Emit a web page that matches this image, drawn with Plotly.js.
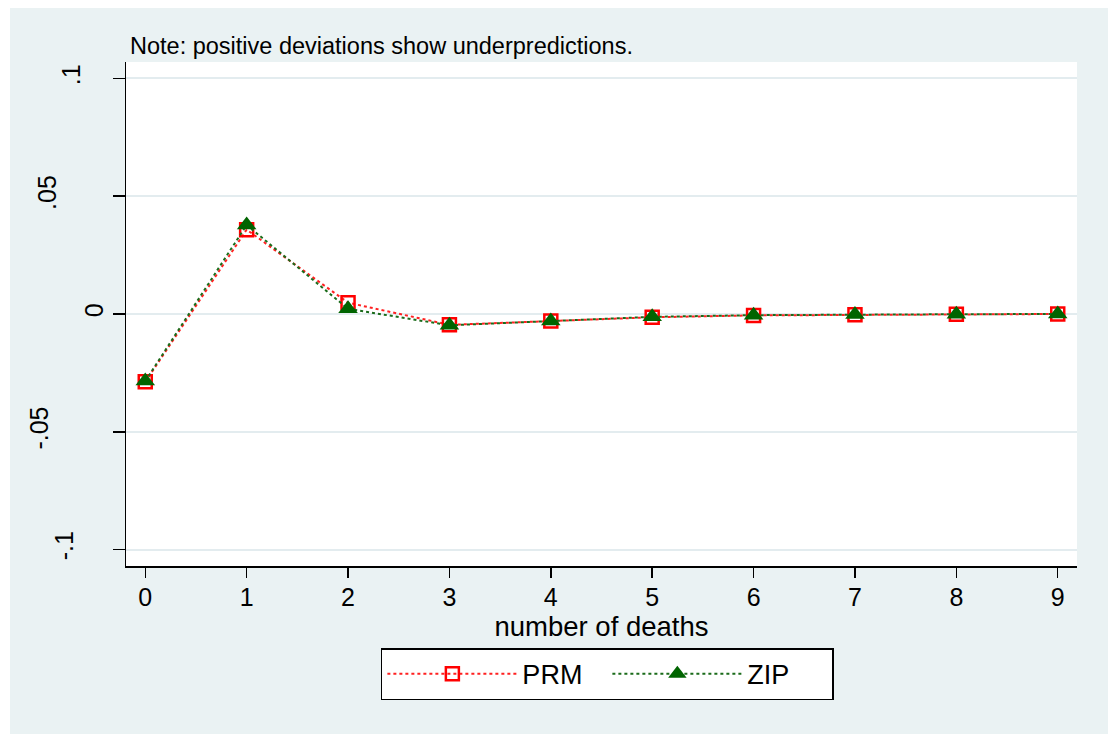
<!DOCTYPE html>
<html>
<head>
<meta charset="utf-8">
<script src="https://cdn.plot.ly/plotly-3.0.1.min.js"></script>
<style>
html,body{margin:0;padding:0;background:#ffffff;}
#chart{position:absolute;left:10px;top:8px;width:1098px;height:726px;}
</style>
</head>
<body>
<div id="chart"></div>
<script>
const deaths = [0,1,2,3,4,5,6,7,8,9];
const prmDev = [-0.0288,0.0358,0.0048,-0.0046,-0.0030,-0.0014,-0.0006,-0.0003,-0.0001,0.0000];
const zipDev = [-0.0285,0.0378,0.0022,-0.0048,-0.0030,-0.0012,-0.0005,-0.0002,-0.0001,0.0000];
const yTickVals = [-0.1,-0.05,0,0.05,0.1];
const yTickText = ['-.1','-.05','0','.05','.1'];
const seriesNames = ['PRM','ZIP'];
const noteText = 'Note: positive deviations show underpredictions.';

// style: extra horizontal shift (px) of each y label, as in the original rendering
const yLabelShift = {'-.1':30,'-.05':55,'0':0,'.05':47,'.1':23};

const Y_RANGE = [-0.107,0.107];
const traces = [
  {x:deaths,y:prmDev,name:seriesNames[0],type:'scatter',mode:'lines+markers',
   line:{color:'#ff2020',width:2,dash:'dot'},
   marker:{symbol:'square-open',size:13,color:'#ff0000',line:{width:2.5,color:'#ff0000'}}},
  {x:deaths,y:zipDev,name:seriesNames[1],type:'scatter',mode:'lines+markers',
   line:{color:'#1a6b1a',width:2,dash:'dot'},
   marker:{symbol:'triangle-up',size:17,color:'#006400'}}
];

const layout = {
  width:1098,height:726,
  paper_bgcolor:'#eaf2f3',plot_bgcolor:'#ffffff',
  font:{family:'"Liberation Sans", Arial, sans-serif',color:'#000000',size:25},
  margin:{l:116,r:31,t:54,b:168},
  showlegend:true,
  xaxis:{range:[-0.19,9.19],tickvals:deaths,ticks:'outside',ticklen:10,tickwidth:1.5,tickcolor:'#000',
    showline:true,linecolor:'#000',linewidth:1.5,showgrid:false,zeroline:false,ticklabelstandoff:-2,
    tickfont:{size:25},title:{text:'number of deaths',font:{size:27.5},standoff:0}},
  yaxis:{range:Y_RANGE,tickvals:yTickVals,ticktext:yTickText.map(t=>yLabelShift[t]===0?t:''),tickangle:-90,
    ticks:'outside',ticklen:12,tickwidth:1.5,tickcolor:'#000',
    showline:true,linecolor:'#000',linewidth:1.5,showgrid:true,gridcolor:'#e3ecef',gridwidth:2,zeroline:false,
    tickfont:{size:25}},
  legend:{orientation:'h',x:0.268,xanchor:'left',y:-0.163,yanchor:'top',
    bgcolor:'#ffffff',bordercolor:'#000000',borderwidth:1.5,
    font:{size:27},entrywidth:80,itemwidth:130},
  annotations:[{text:noteText,xref:'paper',yref:'paper',x:0,y:1,xanchor:'left',yanchor:'bottom',
    xshift:2,yshift:1,showarrow:false,font:{size:23.5}}]
};

// overlay axes carrying the shifted labels
let axN = 2;
yTickText.forEach((t,i)=>{
  if (yLabelShift[t]===0) return;
  layout['yaxis'+axN] = {overlaying:'y',anchor:'x',side:'left',range:Y_RANGE,
    tickvals:[yTickVals[i]],ticktext:[t],tickangle:-90,ticks:'outside',ticklen:12,
    tickcolor:'rgba(0,0,0,0)',showline:false,showgrid:false,zeroline:false,
    ticklabelstandoff:yLabelShift[t],tickfont:{size:25}};
  traces.push({x:[deaths[0]],y:[yTickVals[i]],yaxis:'y'+axN,type:'scatter',mode:'markers',
    marker:{opacity:0},showlegend:false,hoverinfo:'skip'});
  axN++;
});

Plotly.newPlot('chart',traces,layout,{displayModeBar:false,staticPlot:true});
</script>
</body>
</html>
